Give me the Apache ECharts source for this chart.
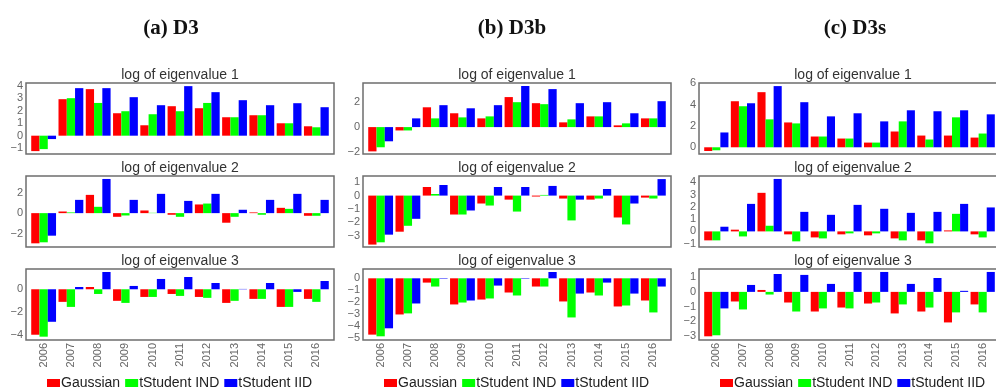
<!DOCTYPE html>
<html>
<head>
<meta charset="utf-8">
<title>log of eigenvalues</title>
<script src="https://cdn.jsdelivr.net/npm/echarts@6/dist/echarts.min.js"></script>
<style>
  html, body { margin: 0; padding: 0; background: #fff; }
  #chart { width: 996px; height: 390px; }
</style>
</head>
<body>
<div id="chart"></div>
<script>
// Categories and legend names
const years = ['2006','2007','2008','2009','2010','2011','2012','2013','2014','2015','2016'];
const seriesNames = ['Gaussian', 'tStudent IND', 'tStudent IID'];
const columnTitles = ['(a) D3', '(b) D3b', '(c) D3s'];
const rowTitles = ['log of eigenvalue 1', 'log of eigenvalue 2', 'log of eigenvalue 3'];

// (a) D3
const D3_ev1_gaussian = [-1.23, 2.91, 3.71, 1.79, 0.83, 2.35, 2.19, 1.47, 1.63, 0.99, 0.75];
const D3_ev1_tInd     = [-1.07, 2.99, 2.61, 1.95, 1.71, 1.95, 2.61, 1.47, 1.63, 0.99, 0.67];
const D3_ev1_tIid     = [-0.27, 3.79, 3.79, 3.07, 2.43, 3.95, 3.47, 2.83, 2.43, 2.59, 2.27];
const D3_ev2_gaussian = [-2.96, 0.16, 1.79, -0.36, 0.26, -0.16, 0.85, -0.94, 0.07, 0.52, -0.26];
const D3_ev2_tInd     = [-2.86, 0.07, 0.62, -0.23, 0.03, -0.36, 0.94, -0.36, -0.16, 0.42, -0.26];
const D3_ev2_tIid     = [-2.21, 1.30, 3.35, 1.30, 1.89, 1.20, 1.89, 0.33, 1.30, 1.89, 1.30];
const D3_ev3_gaussian = [-3.97, -1.10, 0.20, -1.01, -0.67, -0.41, -0.67, -1.19, -0.84, -1.54, -0.84];
const D3_ev3_tInd     = [-4.14, -1.54, -0.41, -1.19, -0.67, -0.58, -0.75, -1.01, -0.84, -1.54, -1.10];
const D3_ev3_tIid     = [-2.84, 0.20, 1.51, 0.29, 0.90, 1.07, 0.55, 0.03, 0.55, -0.23, 0.72];

// (b) D3b
const D3b_ev1_gaussian = [-1.95, -0.27, 1.59, 1.11, 0.70, 2.41, 1.92, 0.38, 0.86, 0.14, 0.70];
const D3b_ev1_tInd     = [-1.62, -0.27, 0.70, 0.78, 0.86, 2.00, 1.84, 0.62, 0.86, 0.30, 0.70];
const D3b_ev1_tIid     = [-1.14, 0.70, 1.76, 1.51, 1.76, 3.30, 3.05, 1.92, 2.00, 1.11, 2.08];
const D3b_ev2_gaussian = [-3.65, -2.69, 0.64, -1.41, -0.59, -0.30, -0.07, -0.22, -0.30, -1.63, -0.15];
const D3b_ev2_tInd     = [-3.48, -2.25, 0.12, -1.41, -0.74, -1.19, 0.05, -1.85, -0.22, -2.15, -0.22];
const D3b_ev2_tIid     = [-2.91, -1.73, 0.79, -1.11, 0.64, 0.64, 0.72, -0.30, 0.49, -0.59, 1.23];
const D3b_ev3_gaussian = [-4.72, -3.03, -0.36, -2.19, -1.78, -1.19, -0.69, -1.94, -1.19, -2.36, -1.86];
const D3b_ev3_tInd     = [-4.86, -2.94, -0.69, -2.03, -1.69, -1.44, -0.69, -3.28, -1.44, -2.28, -2.86];
const D3b_ev3_tIid     = [-4.19, -2.11, -0.04, -1.86, -0.61, -0.04, 0.53, -1.28, -0.36, -1.28, -0.69];

// (c) D3s
const D3s_ev1_gaussian = [-0.35, 4.32, 5.17, 2.33, 1.01, 0.82, 0.44, 1.48, 1.10, 1.10, 0.91];
const D3s_ev1_tInd     = [-0.28, 3.85, 2.62, 2.24, 1.01, 0.82, 0.44, 2.43, 0.73, 2.81, 1.29];
const D3s_ev1_tIid     = [1.39, 4.13, 5.74, 4.23, 2.90, 3.19, 2.43, 3.47, 3.38, 3.47, 3.09];
const D3s_ev2_gaussian = [-0.73, 0.14, 3.14, -0.24, -0.49, -0.24, -0.32, -0.57, -0.73, 0.08, -0.24];
const D3s_ev2_tInd     = [-0.73, -0.41, 0.46, -0.81, -0.57, -0.16, -0.16, -0.73, -0.97, 1.43, -0.49];
const D3s_ev2_tIid     = [0.38, 2.24, 4.27, 1.59, 1.35, 2.16, 1.84, 1.51, 1.59, 2.24, 1.95];
const D3s_ev3_gaussian = [-3.01, -0.65, 0.13, -0.72, -1.33, -1.06, -0.79, -1.46, -1.33, -2.07, -0.85];
const D3s_ev3_tInd     = [-2.94, -1.19, -0.18, -1.33, -1.12, -1.12, -0.72, -0.85, -1.06, -1.39, -1.39];
const D3s_ev3_tIid     = [-1.12, 0.47, 1.21, 1.15, 0.54, 1.35, 1.35, 0.54, 0.94, 0.07, 1.35];

// Y tick labels per panel
const D3_ev1_ticks  = [-1, 0, 1, 2, 3, 4];
const D3_ev2_ticks  = [-2, 0, 2];
const D3_ev3_ticks  = [-4, -2, 0];
const D3b_ev1_ticks = [-2, 0, 2];
const D3b_ev2_ticks = [-3, -2, -1, 0, 1];
const D3b_ev3_ticks = [-5, -4, -3, -2, -1, 0];
const D3s_ev1_ticks = [0, 2, 4, 6];
const D3s_ev2_ticks = [-1, 0, 1, 2, 3, 4];
const D3s_ev3_ticks = [-3, -2, -1, 0, 1];

const panels = [
  { col: 0, row: 0, values: [D3_ev1_gaussian, D3_ev1_tInd, D3_ev1_tIid], ticks: D3_ev1_ticks, range: [-1.46, 4.2] },
  { col: 0, row: 1, values: [D3_ev2_gaussian, D3_ev2_tInd, D3_ev2_tIid], ticks: D3_ev2_ticks, range: [-3.32, 3.64] },
  { col: 0, row: 2, values: [D3_ev3_gaussian, D3_ev3_tInd, D3_ev3_tIid], ticks: D3_ev3_ticks, range: [-4.43, 1.77] },
  { col: 1, row: 0, values: [D3b_ev1_gaussian, D3b_ev1_tInd, D3b_ev1_tIid], ticks: D3b_ev1_ticks, range: [-2.16, 3.54] },
  { col: 1, row: 1, values: [D3b_ev2_gaussian, D3b_ev2_tInd, D3b_ev2_tIid], ticks: D3b_ev2_ticks, range: [-3.83, 1.46] },
  { col: 1, row: 2, values: [D3b_ev3_gaussian, D3b_ev3_tInd, D3b_ev3_tIid], ticks: D3b_ev3_ticks, range: [-5.17, 0.78] },
  { col: 2, row: 0, values: [D3s_ev1_gaussian, D3s_ev1_tInd, D3s_ev1_tIid], ticks: D3s_ev1_ticks, range: [-0.63, 6.03] },
  { col: 2, row: 1, values: [D3s_ev2_gaussian, D3s_ev2_tInd, D3s_ev2_tIid], ticks: D3s_ev2_ticks, range: [-1.27, 4.51] },
  { col: 2, row: 2, values: [D3s_ev3_gaussian, D3s_ev3_tInd, D3s_ev3_tIid], ticks: D3s_ev3_ticks, range: [-3.26, 1.55] }
];

// Layout
const frameLeft = [26, 363, 699];
const frameTop = [83, 176, 269];
const frameW = 308, frameH = 71, inset = 4;
const colTitleX = [171, 512, 855];
const colors = ['#ff0000', '#00ff00', '#0000ff'];
const SANS = '"Liberation Sans", Arial, sans-serif';
const labelGray = '#666666';

const fmt = v => (v < 0 ? '\u2212' + Math.abs(v) : String(v));

const grid = [], xAxis = [], yAxis = [], series = [], graphic = [];

panels.forEach((p, i) => {
  const fl = frameLeft[p.col], ft = frameTop[p.row];
  grid.push({ left: fl + inset, top: ft, width: frameW - 2 * inset, height: frameH, containLabel: false });
  xAxis.push({
    type: 'category', gridIndex: i, data: years,
    axisLine: { show: false }, axisTick: { show: false }, splitLine: { show: false },
    axisLabel: { show: p.row === 2, rotate: 90, interval: 0, margin: 3, color: labelGray, fontSize: 11, fontFamily: SANS }
  });
  yAxis.push({
    type: 'value', gridIndex: i, min: p.range[0], max: p.range[1], offset: inset,
    axisLine: { show: false }, axisTick: { show: false }, splitLine: { show: false },
    axisLabel: { customValues: p.ticks, formatter: fmt, margin: 3, color: labelGray, fontSize: 11, fontFamily: SANS }
  });
  p.values.forEach((vals, k) => {
    series.push({
      type: 'bar', name: seriesNames[k], xAxisIndex: i, yAxisIndex: i, data: vals,
      itemStyle: { color: colors[k] }, barGap: '0%', barCategoryGap: '9%',
      animation: false, silent: true
    });
  });
  // panel frame
  graphic.push({
    type: 'rect', z: 100,
    shape: { x: fl, y: ft, width: frameW, height: frameH },
    style: { fill: 'none', stroke: '#6e6e6e', lineWidth: 1.5 }
  });
  // panel title
  graphic.push({
    type: 'text', z: 100,
    style: { x: fl + frameW / 2, y: ft - 8, text: rowTitles[p.row], align: 'center', verticalAlign: 'middle',
             font: '14px ' + SANS, fill: '#333333' }
  });
});

columnTitles.forEach((t, c) => {
  graphic.push({
    type: 'text', z: 100,
    style: { x: colTitleX[c], y: 29, text: t, align: 'center', verticalAlign: 'middle',
             font: 'bold 21px "Liberation Serif", "Times New Roman", serif', fill: '#111111' }
  });
});

const legend = frameLeft.map(fl => ({
  data: seriesNames, left: fl + 21, top: 376, width: 330, orient: 'horizontal',
  icon: 'rect', itemWidth: 13, itemHeight: 8, itemGap: 5, padding: 0, selectedMode: false,
  textStyle: { fontSize: 14, color: '#222222', fontFamily: SANS, padding: [0, 0, 0, -4] }
}));

const chart = echarts.init(document.getElementById('chart'), null, { renderer: 'canvas' });
chart.setOption({
  animation: false,
  backgroundColor: '#ffffff',
  grid, xAxis, yAxis, series, legend, graphic
});
</script>
</body>
</html>
